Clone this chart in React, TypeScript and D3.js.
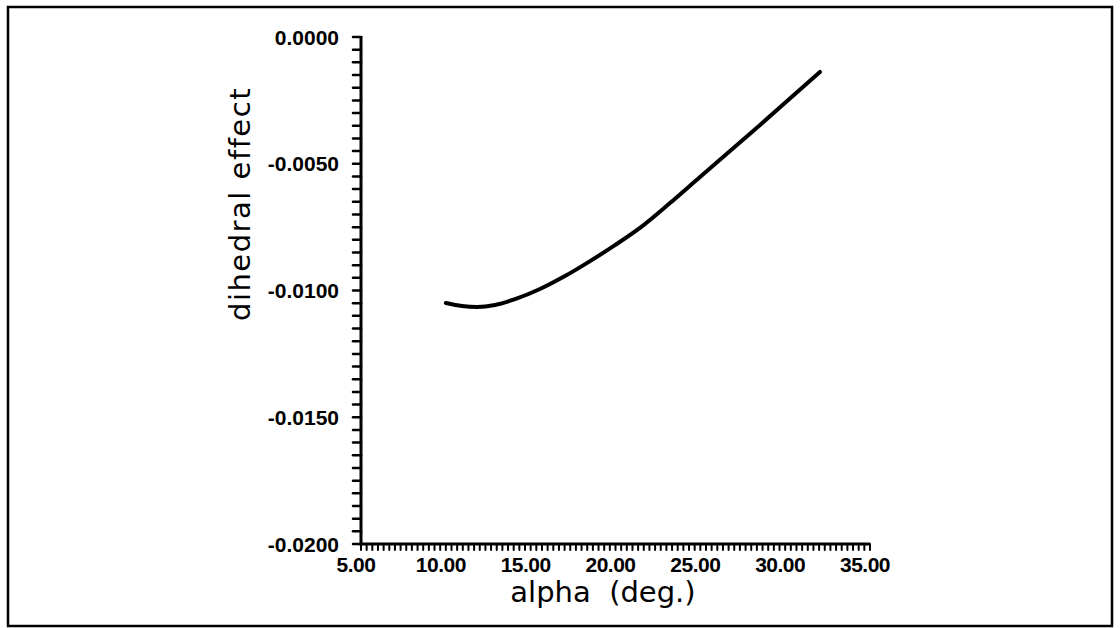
import React from "react";
import * as d3 from "d3";

const alphaValues = [10.0, 10.95, 11.84, 12.9, 14.08, 15.55, 17.02, 18.5, 19.97, 21.44, 23.21, 24.98, 26.75, 28.52, 30.28, 32.05];
const effectValues = [-0.01049, -0.01061, -0.01065, -0.01057, -0.01034, -0.00994, -0.00943, -0.00884, -0.00821, -0.00753, -0.00655, -0.00552, -0.0045, -0.00347, -0.00243, -0.00138];

const xTicks = [5, 10, 15, 20, 25, 30, 35];
const xTickLabels = ["5.00", "10.00", "15.00", "20.00", "25.00", "30.00", "35.00"];
const yTicks = [0, -0.005, -0.01, -0.015, -0.02];
const yTickLabels = ["0.0000", "-0.0050", "-0.0100", "-0.0150", "-0.0200"];

const xLabel = "alpha  (deg.)";
const yLabel = "dihedral effect";

export default function App() {
  const W = 1120, H = 628;
  const x = d3.scaleLinear().domain([5, 35]).range([361, 870]);
  const y = d3.scaleLinear().domain([-0.02, 0]).range([544, 37]);

  const pts = alphaValues.map((a, i) => [a, effectValues[i]] as [number, number]);
  const line = d3.line<[number, number]>().x(d => x(d[0])).y(d => y(d[1])).curve(d3.curveMonotoneX);

  const xMinor = d3.range(0, 91).map(i => 5 + i / 3);
  const yMinor = d3.range(0, 41).map(i => -0.02 + i * 0.0005);

  const tickFont = "'Liberation Sans', Arial, sans-serif";
  const labelFont = "'DejaVu Sans', Verdana, sans-serif";

  return (
    <svg width={W} height={H} style={{ position: "absolute", left: 0, top: 0, background: "#fff" }}>
      <rect x={0} y={0} width={W} height={H} fill="#fff" />
      <rect x={8} y={7} width={1104} height={619} fill="none" stroke="#000" strokeWidth={2.5} />
      {/* axes */}
      <line x1={x(5)} x2={x(5)} y1={y(0) - 1} y2={y(-0.02) + 1.5} stroke="#000" strokeWidth={3} />
      <line x1={x(5) - 1.5} x2={x(35)} y1={y(-0.02)} y2={y(-0.02)} stroke="#000" strokeWidth={3} />
      {/* y minor ticks */}
      {yMinor.map((v, i) => (
        <line key={"ym" + i} x1={x(5) - 8} x2={x(5)} y1={y(v)} y2={y(v)} stroke="#000" strokeWidth={2.5} strokeLinecap="round" />
      ))}
      {/* x minor ticks */}
      {xMinor.map((v, i) => (
        <line key={"xm" + i} x1={x(v)} x2={x(v)} y1={y(-0.02)} y2={y(-0.02) + 6} stroke="#000" strokeWidth={2} strokeLinecap="round" />
      ))}
      {/* y tick labels */}
      {yTicks.map((v, i) => (
        <text key={"yl" + i} x={x(5) - 22} y={y(v)} dy="0.36em" textAnchor="end" fontFamily={tickFont} fontWeight="bold" fontSize={21} fill="#000">
          {yTickLabels[i]}
        </text>
      ))}
      {/* x tick labels */}
      {xTicks.map((v, i) => (
        <text key={"xl" + i} x={x(v) - 5} y={572} textAnchor="middle" fontFamily={tickFont} fontWeight="bold" fontSize={21} letterSpacing={-0.5} fill="#000">
          {xTickLabels[i]}
        </text>
      ))}
      {/* axis labels */}
      <text x={603} y={602} textAnchor="middle" fontFamily={labelFont} fontSize={29} fill="#000" style={{ whiteSpace: "pre" }}>
        {xLabel}
      </text>
      <text transform={`translate(250,204) rotate(-90)`} textAnchor="middle" fontFamily={labelFont} fontSize={29} letterSpacing={1.5} fill="#000">
        {yLabel}
      </text>
      {/* curve */}
      <path d={line(pts) || ""} fill="none" stroke="#000" strokeWidth={4} strokeLinecap="round" strokeLinejoin="round" />
    </svg>
  );
}
